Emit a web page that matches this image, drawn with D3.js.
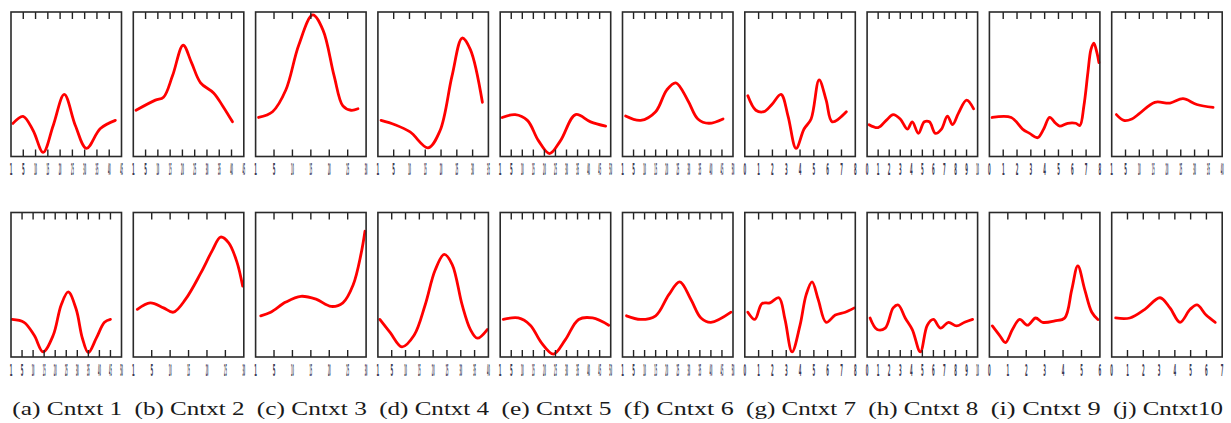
<!DOCTYPE html>
<html><head><meta charset="utf-8">
<script src="https://cdn.jsdelivr.net/npm/d3@7"></script>
<style>html,body{margin:0;padding:0;background:#fff;}svg{display:block;}</style>
</head><body>
<script>
// ---------- DATA ----------
const captions = ["(a) Cntxt 1","(b) Cntxt 2","(c) Cntxt 3","(d) Cntxt 4","(e) Cntxt 5","(f) Cntxt 6","(g) Cntxt 7","(h) Cntxt 8","(i) Cntxt 9","(j) Cntxt10"];

// x-domain maxima per panel (top row / bottom row)
const topXMax = [4.5,4.5,3,3.5,5,5,8,10,8,4];
const botXMax = [5,3,3,4,5,5,8,10,6,7];

// tick labels (evenly spaced from left edge to right edge)
const lab5_7  = ["1","5","10","15","20","25","30"];
const lab5_8  = ["1","5","10","15","20","25","30","35"];
const lab5_9  = ["1","5","10","15","20","25","30","35","40"];
const lab5_10 = ["1","5","10","15","20","25","30","35","40","45"];
const lab5_11 = ["1","5","10","15","20","25","30","35","40","45","50"];
const labInt7  = ["0","1","2","3","4","5","6"];
const labInt8  = ["0","1","2","3","4","5","6","7"];
const labInt9  = ["0","1","2","3","4","5","6","7","8"];
const labInt11 = ["0","1","2","3","4","5","6","7","8","9","10"];
const topLabels = [lab5_10, lab5_10, lab5_7, lab5_8, lab5_11, lab5_11, labInt9, labInt11, labInt9, lab5_9];
const botLabels = [lab5_11, lab5_7, lab5_7, lab5_9, lab5_11, lab5_11, labInt9, labInt11, labInt7, labInt8];

// series values: [x, y] with y as fraction of panel height (0 bottom .. 1 top)
const cntxt1Top = [[0.08,0.229],[0.49,0.278],[0.9,0.18],[1.31,0.028],[1.72,0.215],[2.17,0.43],[2.62,0.215],[3.07,0.056],[3.64,0.194],[4.25,0.25]];
const cntxt2Top = [[0.11,0.32],[0.9,0.39],[1.23,0.41],[1.6,0.56],[2.03,0.77],[2.37,0.65],[2.74,0.51],[3.27,0.44],[3.64,0.35],[4.04,0.24]];
const cntxt3Top = [[0.08,0.27],[0.46,0.31],[0.82,0.46],[1.17,0.77],[1.55,0.98],[1.83,0.875],[2.13,0.56],[2.37,0.35],[2.59,0.32],[2.78,0.33]];
const cntxt4Top = [[0.1,0.25],[0.54,0.22],[1.02,0.17],[1.59,0.06],[1.97,0.18],[2.35,0.56],[2.67,0.82],[2.93,0.74],[3.31,0.375]];
const cntxt5Top = [[0.09,0.27],[0.68,0.29],[1.23,0.25],[1.73,0.11],[2.23,0.02],[2.73,0.11],[3.41,0.29],[4.09,0.24],[4.77,0.21]];
const cntxt6Top = [[0.14,0.28],[0.82,0.25],[1.5,0.31],[2.0,0.46],[2.41,0.51],[2.95,0.39],[3.41,0.26],[3.91,0.23],[4.55,0.26]];
const cntxt7Top = [[0.22,0.42],[0.8,0.32],[1.38,0.31],[1.96,0.36],[2.62,0.43],[3.13,0.28],[3.71,0.056],[4.29,0.19],[4.8,0.26],[5.38,0.53],[5.89,0.39],[6.33,0.24],[7.35,0.31]];
const cntxt8Top = [[0.18,0.22],[1.0,0.2],[1.73,0.25],[2.36,0.29],[3.0,0.26],[3.64,0.19],[4.09,0.24],[4.64,0.16],[5.18,0.24],[5.64,0.24],[6.18,0.16],[6.73,0.19],[7.27,0.28],[7.73,0.22],[8.27,0.3],[9.0,0.39],[9.64,0.33]];
const cntxt9Top = [[0.2,0.27],[1.58,0.27],[2.4,0.19],[2.91,0.16],[3.49,0.13],[3.93,0.19],[4.36,0.27],[4.8,0.23],[5.09,0.21],[5.67,0.23],[6.25,0.23],[6.55,0.215],[6.84,0.35],[7.13,0.58],[7.35,0.74],[7.56,0.785],[7.78,0.72],[7.93,0.65]];
const cntxt10Top = [[0.17,0.29],[0.44,0.25],[0.73,0.26],[1.02,0.3],[1.56,0.375],[2.11,0.37],[2.58,0.4],[3.08,0.36],[3.67,0.34]];

const cntxt1Bot = [[0.05,0.26],[0.59,0.24],[1.05,0.15],[1.45,0.035],[1.91,0.15],[2.27,0.36],[2.59,0.45],[2.95,0.33],[3.23,0.13],[3.5,0.03],[3.86,0.13],[4.23,0.24],[4.5,0.26]];
const cntxt2Bot = [[0.11,0.33],[0.46,0.375],[0.82,0.34],[1.09,0.31],[1.42,0.4],[1.83,0.58],[2.15,0.74],[2.37,0.83],[2.59,0.79],[2.81,0.66],[2.97,0.49]];
const cntxt3Bot = [[0.14,0.285],[0.41,0.31],[0.82,0.38],[1.23,0.42],[1.64,0.4],[2.05,0.35],[2.37,0.375],[2.65,0.5],[2.86,0.71],[2.97,0.87]];
const cntxt4Bot = [[0.07,0.26],[0.44,0.17],[0.87,0.07],[1.31,0.15],[1.71,0.36],[2.07,0.6],[2.4,0.71],[2.69,0.64],[3.05,0.36],[3.35,0.19],[3.6,0.13],[3.96,0.19]];
const cntxt5Bot = [[0.14,0.26],[0.82,0.27],[1.36,0.22],[1.86,0.1],[2.41,0.02],[2.95,0.12],[3.55,0.26],[4.18,0.27],[4.91,0.22]];
const cntxt6Bot = [[0.18,0.285],[0.82,0.26],[1.5,0.285],[2.09,0.43],[2.59,0.52],[3.09,0.4],[3.55,0.27],[4.0,0.24],[4.91,0.31]];
const cntxt7Bot = [[0.22,0.31],[0.73,0.26],[1.24,0.37],[1.82,0.375],[2.47,0.41],[2.91,0.26],[3.42,0.035],[4.0,0.22],[4.44,0.43],[4.87,0.52],[5.31,0.4],[5.89,0.24],[6.55,0.29],[7.27,0.31],[7.93,0.34]];
const cntxt8Bot = [[0.27,0.27],[0.91,0.19],[1.64,0.2],[2.36,0.34],[2.82,0.36],[3.45,0.27],[4.09,0.19],[4.82,0.035],[5.45,0.22],[6.0,0.26],[6.64,0.2],[7.36,0.24],[8.09,0.215],[8.82,0.24],[9.55,0.26]];
const cntxt9Bot = [[0.16,0.215],[0.55,0.15],[0.87,0.1],[1.25,0.19],[1.64,0.26],[2.07,0.22],[2.51,0.27],[2.89,0.24],[3.55,0.25],[4.09,0.27],[4.47,0.465],[4.8,0.63],[5.18,0.465],[5.56,0.31],[5.89,0.26]];
const cntxt10Bot = [[0.25,0.27],[1.15,0.27],[2.1,0.33],[3.06,0.41],[3.69,0.34],[4.33,0.24],[4.97,0.33],[5.41,0.36],[5.98,0.29],[6.56,0.24]];

const topSeries = [cntxt1Top,cntxt2Top,cntxt3Top,cntxt4Top,cntxt5Top,cntxt6Top,cntxt7Top,cntxt8Top,cntxt9Top,cntxt10Top];
const botSeries = [cntxt1Bot,cntxt2Bot,cntxt3Bot,cntxt4Bot,cntxt5Bot,cntxt6Bot,cntxt7Bot,cntxt8Bot,cntxt9Bot,cntxt10Bot];

// ---------- LAYOUT ----------
const W = 1231, H = 423;
const panelX0 = 11, panelStep = 122.3, panelW = 110.5, panelH = 144.5;
const rowY = [12, 212.5];
const labelY = [175, 375.5];
const captionY = 415;

const svg = d3.select("body").append("svg").attr("width", W).attr("height", H);

function drawPanel(i, row) {
  const x0 = panelX0 + i * panelStep;
  const y0 = rowY[row];
  const xmax = row === 0 ? topXMax[i] : botXMax[i];
  const labels = row === 0 ? topLabels[i] : botLabels[i];
  const data = row === 0 ? topSeries[i] : botSeries[i];

  const x = d3.scaleLinear().domain([0, xmax]).range([x0, x0 + panelW]);
  const y = d3.scaleLinear().domain([0, 1]).range([y0 + panelH, y0]);
  const tickPos = d3.scalePoint().domain(labels).range([x0, x0 + panelW]);

  const g = svg.append("g");

  // curve
  const line = d3.line().x(d => x(d[0])).y(d => y(d[1])).curve(d3.curveCatmullRom.alpha(0.5));
  g.append("path").datum(data).attr("d", line)
    .attr("fill", "none").attr("stroke", "#ff0000").attr("stroke-width", 2.8)
    .attr("stroke-linejoin", "round").attr("stroke-linecap", "round");

  // inner ticks (top and bottom edges), not at the frame corners
  const inner = labels.slice(1, -1);
  g.selectAll(null).data(inner).enter().append("line")
    .attr("x1", d => tickPos(d)).attr("x2", d => tickPos(d))
    .attr("y1", y0).attr("y2", y0 + 7)
    .attr("stroke", "#222").attr("stroke-width", 1.4);
  g.selectAll(null).data(inner).enter().append("line")
    .attr("x1", d => tickPos(d)).attr("x2", d => tickPos(d))
    .attr("y1", y0 + panelH).attr("y2", y0 + panelH - 7)
    .attr("stroke", "#222").attr("stroke-width", 1.4);

  // frame
  g.append("rect").attr("x", x0).attr("y", y0).attr("width", panelW).attr("height", panelH)
    .attr("fill", "none").attr("stroke", "#2a2a2a").attr("stroke-width", 1.6);

  // squashed tick labels (each compressed to a narrow glyph-width)
  g.selectAll(null).data(labels).enter().append("text")
    .attr("transform", d => `translate(${tickPos(d)},${labelY[row]}) scale(${0.24 / d.length},1)`)
    .attr("text-anchor", "middle")
    .attr("font-family", "DejaVu Sans")
    .attr("font-weight", "bold")
    .attr("font-size", 16)
    .attr("fill", "#3b3b55")
    .text(d => d);
}

for (let i = 0; i < 10; i++) { drawPanel(i, 0); drawPanel(i, 1); }

// captions
svg.selectAll(null).data(captions).enter().append("text")
  .attr("x", (d, i) => panelX0 + i * panelStep + panelW / 2 + 1)
  .attr("y", captionY)
  .attr("text-anchor", "middle")
  .attr("font-family", "Liberation Serif")
  .attr("font-size", 19)
  .attr("fill", "#1a1a1a")
  .attr("textLength", 110)
  .attr("lengthAdjust", "spacingAndGlyphs")
  .text(d => d);
</script>
</body></html>
